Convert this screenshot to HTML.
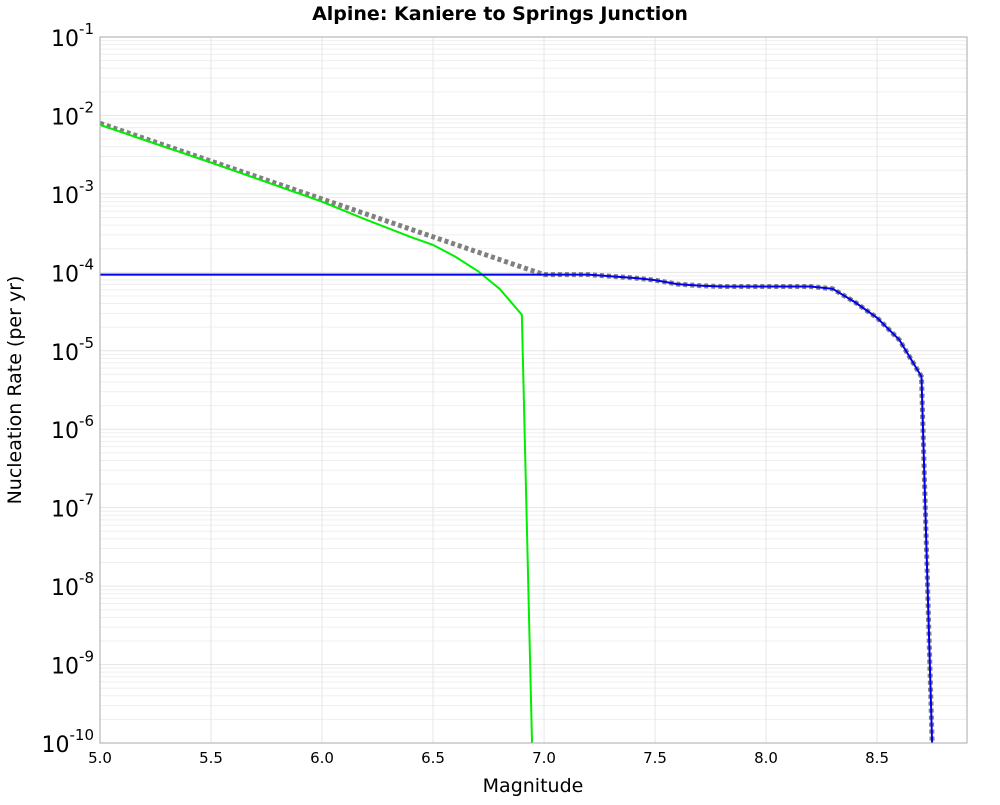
<!DOCTYPE html>
<html><head><meta charset="utf-8"><style>
body{margin:0;background:#fff;font-family:"Liberation Sans","DejaVu Sans",sans-serif}
svg text{font-family:"DejaVu Sans","Liberation Sans",sans-serif}
</style></head><body>
<svg id="chart" width="1000" height="800" xmlns="http://www.w3.org/2000/svg">
<text x="500" y="20" text-anchor="middle" font-size="19" font-weight="bold">Alpine: Kaniere to Springs Junction</text>
<text transform="translate(21,390) rotate(-90)" text-anchor="middle" font-size="19">Nucleation Rate (per yr)</text>
<text x="533" y="792" text-anchor="middle" font-size="19">Magnitude</text>
<g id="grid"></g><g id="series"></g><g id="ticks"></g>
<rect x="100" y="37" width="867" height="706" fill="none" stroke="#aaa"/>
</svg>
<script>
const xTicks=[5.0,5.5,6.0,6.5,7.0,7.5,8.0,8.5];
const yDecades=[-1,-2,-3,-4,-5,-6,-7,-8,-9,-10];
const greenMag=[5.0,5.5,6.0,6.2,6.4,6.5,6.6,6.7,6.8,6.9,6.95];
const greenLog=[-2.12,-2.6,-3.1,-3.33,-3.55,-3.65,-3.8,-3.98,-4.21,-4.54,-10.5];
const blueMag=[5.0,7.0,7.2,7.4,7.5,7.6,7.7,7.8,8.0,8.2,8.3,8.4,8.5,8.6,8.7,8.75];
const blueLog=[-4.03,-4.03,-4.03,-4.07,-4.1,-4.15,-4.17,-4.18,-4.18,-4.18,-4.21,-4.38,-4.58,-4.86,-5.33,-10.2];
const grayMag=[5.0,7.0,7.2,7.4,7.5,7.6,7.7,7.8,8.0,8.2,8.3,8.4,8.5,8.6,8.7,8.75];
const grayLog=[-2.10,-4.03,-4.03,-4.07,-4.1,-4.15,-4.17,-4.18,-4.18,-4.18,-4.21,-4.38,-4.58,-4.86,-5.33,-10.2];
const NS="http://www.w3.org/2000/svg";
const L=100,T=37,R=967,B=743,xMin=5.0,xMax=8.905,yMax=-1,yMin=-10;
const xs=v=>L+(v-xMin)/(xMax-xMin)*(R-L);
const ys=v=>T+(yMax-v)/(yMax-yMin)*(B-T);
function mk(t,a,p){const e=document.createElementNS(NS,t);for(const k in a)e.setAttribute(k,a[k]);p.appendChild(e);return e;}
const grid=document.getElementById('grid'),ticks=document.getElementById('ticks'),ser=document.getElementById('series');
yDecades.forEach(d=>{
  const g=mk('line',{x1:L,x2:R,y1:ys(d),y2:ys(d),stroke:'#e6e6e6'},grid);
  
  
  if(d>yMin){for(let m=2;m<10;m++){const yy=ys(d-1+Math.log10(m));
    const mg=mk('line',{x1:L,x2:R,y1:yy,y2:yy,stroke:'#efefef'},grid);
    
    }}
  const t=mk('text',{x:L-6,y:ys(d)+9,'text-anchor':'end','font-size':'22'},ticks);
  
  
  t.textContent='10';
  const s=mk('tspan',{dy:-12,'font-size':'15'},t);s.textContent=String(d);
});
xTicks.forEach(v=>{
  const g=mk('line',{x1:xs(v),x2:xs(v),y1:T,y2:B,stroke:'#e6e6e6'},grid);
  
  
  const t=mk('text',{x:xs(v),y:B+20,'text-anchor':'middle','font-size':'15'},ticks);
  
  
  t.textContent=v.toFixed(1);
});
mk('clipPath',{id:'pc'},ser).appendChild(Object.assign(document.createElementNS(NS,'rect'),{}));
const cr=ser.querySelector('clipPath rect');cr.setAttribute('x',L);cr.setAttribute('y',T);cr.setAttribute('width',R-L);cr.setAttribute('height',B-T);
function line(m,v,attrs){return mk('polyline',Object.assign({points:m.map((x,i)=>xs(x)+','+ys(v[i])).join(' '),fill:'none','clip-path':'url(#pc)'},attrs),ser);}
const gl=line(grayMag,grayLog,{stroke:'#808080','stroke-width':5,'stroke-dasharray':'4,3'});


const grl=line(greenMag,greenLog,{stroke:'#00ee00','stroke-width':2});


const bl=line(blueMag,blueLog,{stroke:'#0000ee','stroke-width':2});


</script>
</body></html>
